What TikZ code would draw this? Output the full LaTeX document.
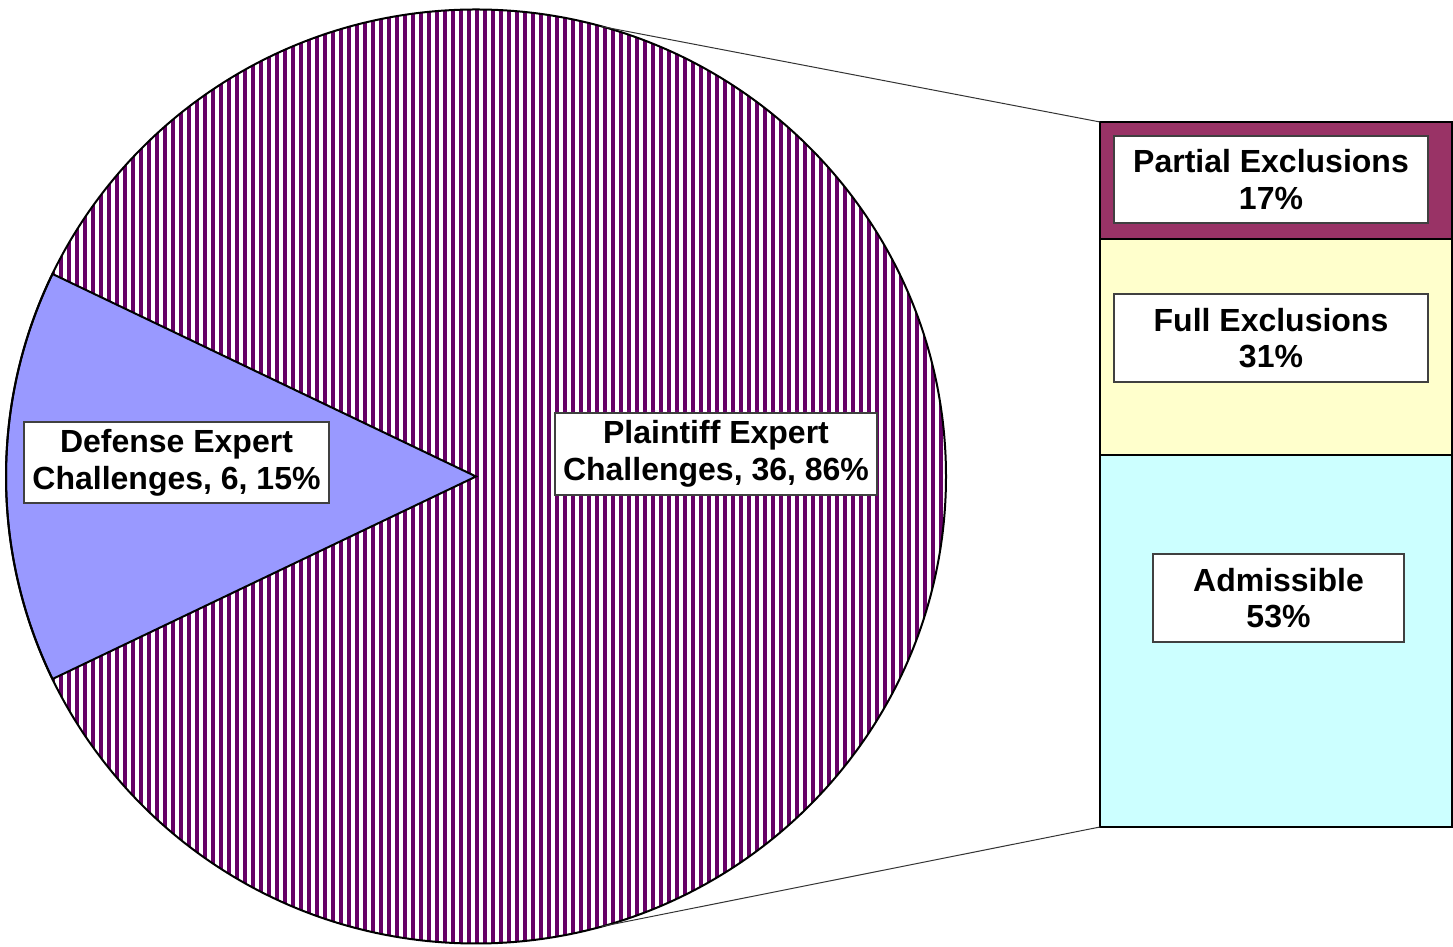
\documentclass[tikz,border=0pt]{standalone}
\usepackage{fontspec}
\setmainfont{Liberation Sans}
\usetikzlibrary{positioning}
\definecolor{stripe}{HTML}{660066}
\definecolor{defblue}{HTML}{9999FF}
\definecolor{barplum}{HTML}{993366}
\definecolor{baryellow}{HTML}{FFFFCC}
\definecolor{barcyan}{HTML}{CCFFFF}

\begin{document}
\begin{tikzpicture}[x=0.5pt, y=0.5pt,
  lbl/.style={draw=black!75, line width=0.6pt, fill=white, align=center, inner sep=0pt, font=\bfseries\fontsize{16}{18.4}\selectfont},
  seg/.style={draw, line width=1pt, minimum width=176pt, anchor=north west, inner sep=0pt, outer sep=0pt}]
\useasboundingbox (0,0) rectangle (1453,947);
\coordinate (O) at (476,470.5);
% plaintiff slice, vertical stripes
\begin{scope}
\clip (O) -- ++(-154.3:235pt and 233.5pt) arc[start angle=-154.3, end angle=154.3, x radius=235pt, y radius=233.5pt] -- cycle;
\fill[white] (0,0) rectangle (950,947);
\foreach \i in {0,...,118}
  \draw[stripe, line width=1.9pt] ({5+8*\i},0) -- ++(0,947);
\end{scope}
% defense slice
\filldraw[fill=defblue, line width=1pt] (O) -- ++(154.3:235pt and 233.5pt) arc[start angle=154.3, end angle=205.7, x radius=235pt, y radius=233.5pt] -- cycle;
\draw[line width=1pt] (O) ellipse [x radius=235pt, y radius=233.5pt];
\path (O) ++(74.5:235pt and 233.5pt) coordinate (ptop);
\path (O) ++(-74.5:235pt and 233.5pt) coordinate (pbot);
% bar
\node[seg, fill=barplum, minimum height=58.5pt] (partial) at (1100,825) {};
\node[seg, fill=baryellow, minimum height=108pt] (full) at (partial.south west) {};
\node[seg, fill=barcyan, minimum height=186pt] (adm) at (full.south west) {};
\draw[line width=0.5pt, black!80] (ptop) -- (partial.north west);
\draw[line width=0.5pt, black!80] (pbot) -- (adm.south west);
% labels
\node[lbl, minimum width=157pt, minimum height=43.5pt] (partlbl) at (1271,767.5) {Partial Exclusions\\17\%};
\node[lbl, minimum width=157pt, minimum height=44pt] (fulllbl) at (1271,609) {Full Exclusions\\31\%};
\node[lbl, minimum width=125.5pt, minimum height=44pt] (admlbl) at (1278.5,349) {Admissible\\53\%};
\node[lbl, minimum width=152.5pt, minimum height=40.5pt] (deflbl) at (176.5,484.5) {Defense Expert\\Challenges, 6, 15\%};
\node[lbl, minimum width=161pt, minimum height=41pt] (plalbl) at (716,493) {Plaintiff Expert\\Challenges, 36, 86\%};
\end{tikzpicture}
\end{document}
